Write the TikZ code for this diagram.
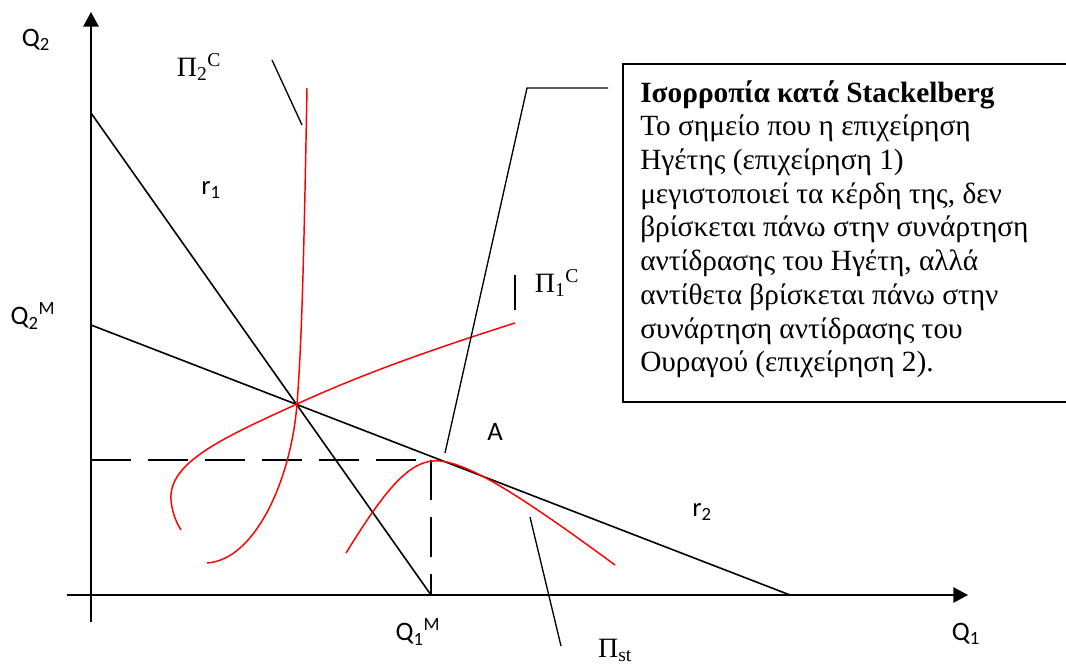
\documentclass[tikz,border=0pt]{standalone}
\usepackage{fontspec}
\setmainfont{Liberation Serif}
\newfontfamily\calibri{Carlito}
\usetikzlibrary{arrows.meta,positioning}
\definecolor{curvered}{HTML}{FF0000}
\definecolor{ink}{HTML}{000000}
\tikzset{axis/.style={-{Triangle[length=11pt,width=11.5pt]}, line width=1.3pt, color=ink}, rline/.style={line width=1.2pt, color=ink}, iso/.style={line width=1.1pt, color=curvered}, guide/.style={line width=1.2pt, color=ink, dash pattern=on 30pt off 12.75pt}, lead/.style={line width=1pt, color=ink}, sanslab/.style={font=\calibri\fontsize{20}{22}\selectfont, inner sep=0pt}, seriflab/.style={font=\fontsize{21}{23}\selectfont, inner sep=0pt}}

\begin{document}
\begin{tikzpicture}[x=0.75pt,y=-0.75pt]
\useasboundingbox (0,0) rectangle (1066,666);
% axes
\coordinate (ybot) at (91,622); \coordinate (ytop) at (91,12);
\coordinate (xleft) at (67,595); \coordinate (xright) at (968,595);
\draw[axis] (ybot)--(ytop); \draw[axis] (xleft)--(xright);
% reaction functions
\coordinate (r1top) at (91,113); \coordinate (q1m) at (431,595);
\coordinate (r2top) at (91,325); \coordinate (r2end) at (790,595);
\draw[rline] (r1top)--(q1m); \draw[rline] (r2top)--(r2end);
% Stackelberg point
\coordinate (st) at (431,460); \coordinate (stleft) at (91,460);
\draw[guide] (stleft)--(st);
\draw[guide] (st)--(q1m);
% isoprofit curves
\draw[iso] (307,88) .. controls (304,250) and (302,340) .. (297,404) .. controls (291,480) and (255,560) .. (207,563);
\draw[iso] (515,323) .. controls (430,350) and (360,375) .. (297,404) .. controls (225,437) and (168,462) .. (171,500) .. controls (172,512) and (176,522) .. (181,530);
\draw[iso] (346,553) .. controls (385,490) and (410,458) .. (440,461) .. controls (470,464) and (520,495) .. (615,565);
% labels
\node[sanslab] (q2) at (36,40) {Q\textsubscript{2}};
\node[sanslab] (q2m) at (33,316) {Q\textsubscript{2}\textsuperscript{M}};
\node[sanslab] (q1) at (966,634) {Q\textsubscript{1}};
\node[sanslab] (q1mlab) at (418,632) {Q\textsubscript{1}\textsuperscript{M}};
\node[sanslab] (r1) at (211,190) {r\textsubscript{1}};
\node[sanslab] (r2) at (702,512) {r\textsubscript{2}};
\node[sanslab] (a) at (495,432) {A};
\node[seriflab] (pi2) at (199,67) {Π\textsubscript{2}\textsuperscript{C}};
\node[seriflab] (pi1) at (557,283) {Π\textsubscript{1}\textsuperscript{C}};
\node[seriflab] (pist) at (615,650) {Π\textsubscript{st}};
% ticks
\coordinate (p2a) at (272,60); \coordinate (p2b) at (302,125);
\draw[lead] (p2a)--(p2b);
\coordinate (p1a) at (515,275); \coordinate (p1b) at (515,310);
\draw[lead] (p1a)--(p1b);
\coordinate (psa) at (530,517); \coordinate (psb) at (561,646);
\draw[lead] (psa)--(psb);
% note
\draw[line width=1.3pt] (623,64) rectangle (1075,402);
\node[anchor=north west, inner sep=0pt, align=left, font=\fontsize{22}{25.3}\selectfont] (note) at (640,80) {\textbf{Ισορροπία κατά Stackelberg}\\Το σημείο που η επιχείρηση\\Ηγέτης (επιχείρηση 1)\\μεγιστοποιεί τα κέρδη της, δεν\\βρίσκεται πάνω στην συνάρτηση\\αντίδρασης του Ηγέτη, αλλά\\αντίθετα βρίσκεται πάνω στην\\συνάρτηση αντίδρασης του\\Ουραγού (επιχείρηση 2).};
\coordinate (nb) at (608,88); \coordinate (nc) at (527,88); \coordinate (nd) at (445,453);
\draw[lead] (nb)--(nc)--(nd);
\end{tikzpicture}
\end{document}
